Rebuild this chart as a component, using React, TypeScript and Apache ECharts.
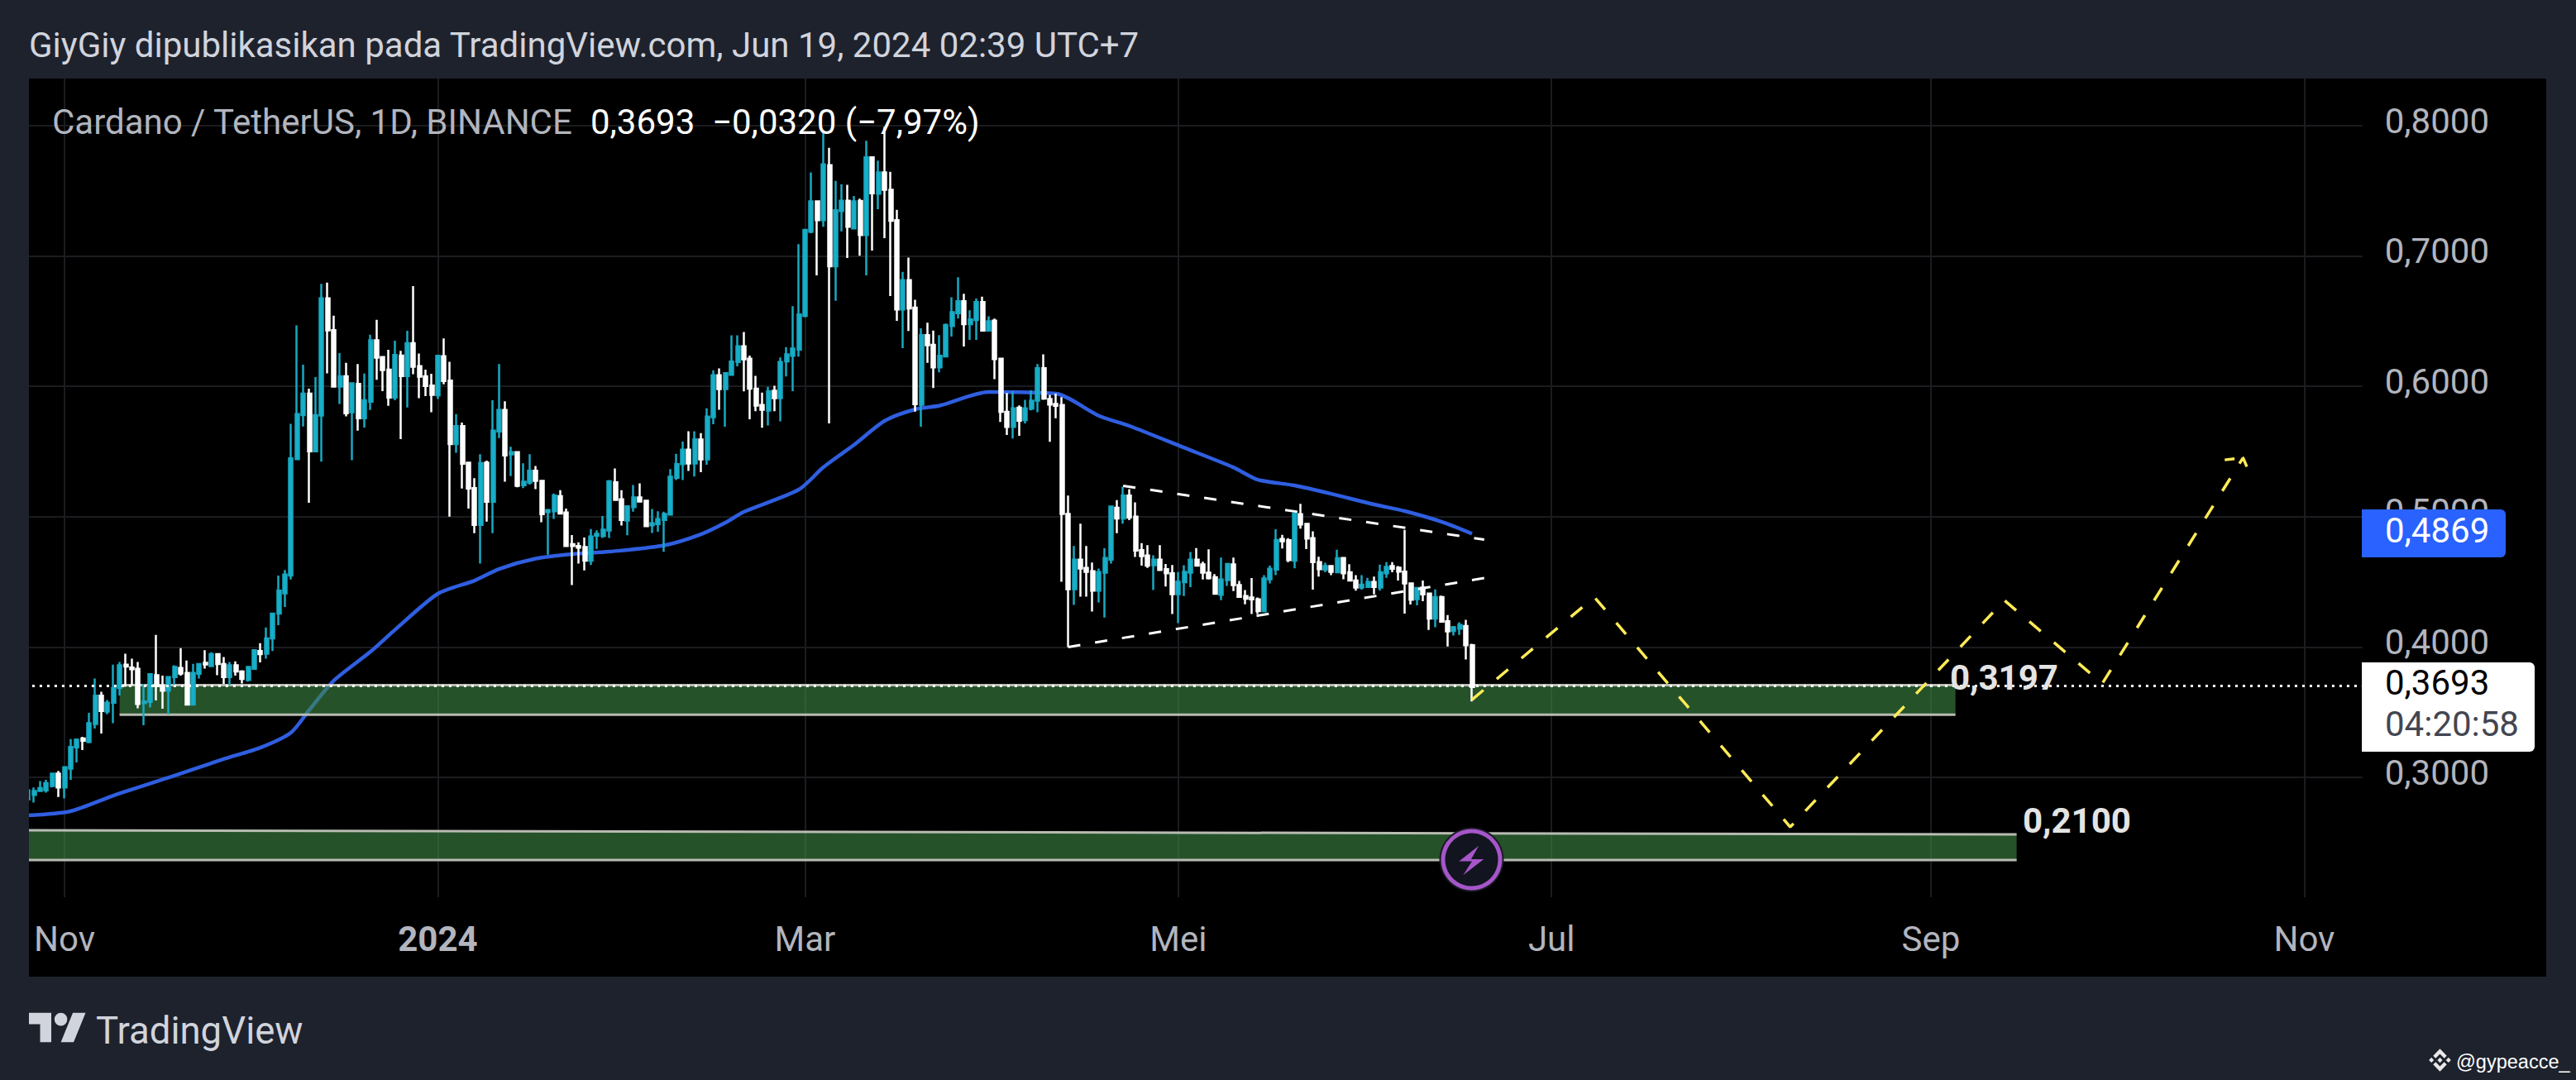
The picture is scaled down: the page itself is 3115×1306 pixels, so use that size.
import React, { useEffect, useRef } from "react";
import * as echarts from "echarts";

// Each row: [open, close, low, high]
const oct23 = [
  [0.283, 0.29, 0.281, 0.2923],[0.2866, 0.2896, 0.2807, 0.2923],[0.2896, 0.2917, 0.2892, 0.2972],[0.29, 0.2955, 0.2883, 0.2981],[0.2934, 0.3029, 0.2923, 0.3029],[0.3029, 0.2923, 0.2849, 0.305],
];
const nov23 = [
  [0.2923,0.3078,0.2839,0.3086],[0.3067,0.3234,0.2981,0.3294],[0.323,0.3289,0.3114,0.3298],[0.3298,0.3281,0.3209,0.3311],[0.3272,0.3416,0.3262,0.3495],
  [0.341,0.3626,0.3374,0.3759],[0.3626,0.3509,0.3336,0.3657],[0.3505,0.3573,0.3484,0.3594],[0.3573,0.3685,0.3416,0.3865],[0.3685,0.386,0.3628,0.3886],
  [0.3865,0.385,0.3695,0.3949],[0.3843,0.3829,0.3706,0.3911],[0.3833,0.3564,0.353,0.3886],[0.3569,0.3583,0.34,0.3717],[0.3579,0.3791,0.3537,0.3795],
  [0.3784,0.37,0.359,0.4093],[0.37,0.3664,0.3526,0.378],[0.3664,0.3769,0.3484,0.3776],[0.3769,0.3848,0.3706,0.386],[0.3839,0.3797,0.378,0.3992],
  [0.3801,0.3558,0.3552,0.3896],[0.3558,0.3801,0.3558,0.3871],[0.3795,0.3869,0.3759,0.3875],[0.3879,0.3867,0.3835,0.3975],[0.3854,0.3945,0.3848,0.396],
  [0.3945,0.3869,0.3784,0.3953],[0.3869,0.3769,0.3717,0.3924],[0.3769,0.386,0.3706,0.3886],[0.386,0.3812,0.378,0.389],[0.3812,0.3755,0.3721,0.3822],
];
const dec23 = [
  [0.3748,0.3848,0.3734,0.3854],[0.3833,0.3975,0.3833,0.3981],[0.397,0.3945,0.3882,0.403],[0.3949,0.4066,0.3911,0.415],[0.4066,0.4256,0.397,0.4256],
  [0.4256,0.4433,0.4167,0.4549],[0.4412,0.4556,0.4308,0.4592],[0.4549,0.5448,0.4518,0.5713],[0.5442,0.5787,0.5438,0.6468],[0.578,0.5945,0.5692,0.6167],
  [0.5945,0.5501,0.5106,0.5983],[0.5501,0.578,0.5501,0.6072],[0.5776,0.6675,0.5423,0.6787],[0.6675,0.643,0.61,0.6796],[0.6432,0.5998,0.5998,0.6542],
  [0.5998,0.6077,0.5865,0.6256],[0.6077,0.5793,0.577,0.618],[0.5802,0.6024,0.5434,0.603],[0.6019,0.5755,0.566,0.6172],[0.5755,0.5893,0.5685,0.6098],
  [0.5882,0.6354,0.5819,0.6396],[0.6354,0.622,0.6051,0.651],[0.6225,0.6125,0.5964,0.6231],[0.6129,0.5914,0.585,0.628],[0.5914,0.6241,0.5893,0.6351],
  [0.6237,0.6079,0.5596,0.6273],[0.6079,0.6332,0.5838,0.6426],[0.6332,0.6151,0.6093,0.677],[0.6155,0.6074,0.5909,0.6252],[0.6077,0.6003,0.5926,0.6129],
  [0.6007,0.5935,0.5802,0.6096],
];
const jan24 = [
  [0.5931,0.6235,0.5903,0.6235],[0.6231,0.6041,0.6015,0.6368],[0.6045,0.5558,0.5,0.6189],[0.5558,0.5696,0.5491,0.5787],[0.5696,0.5406,0.5216,0.5723],
  [0.5415,0.5216,0.5063,0.5423],[0.522,0.4937,0.4873,0.5296],[0.4937,0.5412,0.464,0.548],[0.5415,0.5114,0.4962,0.5431],[0.5114,0.566,0.4873,0.5893],
  [0.5654,0.5819,0.5603,0.6172],[0.5819,0.547,0.5269,0.5886],[0.5478,0.5495,0.5311,0.5537],[0.5495,0.5237,0.5226,0.5501],[0.5241,0.5269,0.522,0.541],
  [0.5262,0.5353,0.5247,0.548],[0.5353,0.5275,0.5212,0.5389],[0.5275,0.5019,0.4958,0.5279],[0.5036,0.5051,0.4708,0.5051],[0.5042,0.5163,0.4983,0.5178],
  [0.5157,0.5025,0.5019,0.5203],[0.5032,0.4776,0.4772,0.5063],[0.4789,0.4776,0.4475,0.486],[0.4776,0.4763,0.464,0.4803],[0.4767,0.4662,0.4588,0.4841],
  [0.4662,0.4848,0.463,0.4905],[0.4854,0.4869,0.4753,0.4896],[0.4852,0.4901,0.4837,0.5006],[0.4894,0.5271,0.4837,0.5281],[0.5264,0.5129,0.5123,0.537],
  [0.5133,0.4975,0.4932,0.5203],
];
const feb24 = [
  [0.497,0.508,0.4858,0.5085],[0.5074,0.5148,0.5038,0.5243],[0.5148,0.5116,0.5112,0.5256],[0.5123,0.4928,0.4922,0.5129],[0.4934,0.4949,0.4875,0.5059],
  [0.4943,0.4981,0.4884,0.5042],[0.4975,0.5021,0.4731,0.5038],[0.5017,0.5307,0.5013,0.5366],[0.5298,0.5404,0.5281,0.5482],[0.5404,0.5514,0.5281,0.5577],
  [0.5514,0.5408,0.5351,0.5656],[0.5408,0.5594,0.5309,0.5656],[0.5592,0.544,0.5341,0.5641],[0.544,0.5768,0.5398,0.5831],[0.5764,0.6085,0.5709,0.6123],
  [0.6085,0.5979,0.5821,0.6138],[0.5979,0.6102,0.569,0.611],[0.6089,0.6191,0.6089,0.6392],[0.6187,0.6307,0.6153,0.6392],[0.6307,0.6208,0.5962,0.6417],
  [0.6212,0.5983,0.5747,0.6237],[0.5983,0.5852,0.581,0.6081],[0.5857,0.5821,0.5683,0.5952],[0.5814,0.5962,0.57,0.5996],[0.5967,0.5909,0.581,0.6005],
  [0.5909,0.6187,0.5732,0.6222],[0.6192,0.6245,0.6076,0.6302],[0.6234,0.6291,0.5964,0.6615],[0.6283,0.6552,0.6228,0.7091],
];
const mar24 = [
  [0.6541,0.7201,0.653,0.7201],[0.7186,0.7419,0.7176,0.7641],[0.7419,0.7275,0.6852,0.7423],[0.7275,0.7704,0.7224,0.7948],[0.7698,0.6922,0.5716,0.7831],
  [0.6922,0.7351,0.6657,0.7577],[0.7345,0.7425,0.719,0.7552],[0.7425,0.7224,0.6985,0.7546],[0.7212,0.7419,0.7207,0.7461],[0.7423,0.7161,0.7002,0.744],
  [0.7161,0.7757,0.6852,0.7884],[0.7757,0.7482,0.7042,0.7761],[0.7478,0.7641,0.736,0.7732],[0.7641,0.7508,0.7137,0.799],[0.7508,0.7271,0.6693,0.7647],
  [0.7275,0.659,0.6503,0.7355],[0.659,0.6816,0.6294,0.6879],[0.6816,0.6598,0.6425,0.6989],[0.6604,0.5864,0.5807,0.6664],[0.5858,0.6393,0.5691,0.6446],
  [0.6393,0.6315,0.6181,0.6488],[0.6319,0.6146,0.5987,0.6429],[0.6146,0.6234,0.6107,0.6393],[0.623,0.6471,0.6224,0.6482],[0.6463,0.6569,0.6382,0.6683],
  [0.6562,0.6653,0.652,0.6837],[0.6653,0.6478,0.6306,0.671],[0.6478,0.6514,0.6357,0.6583],[0.6509,0.6647,0.6357,0.6674],[0.6647,0.6429,0.642,0.6689],
  [0.6429,0.6499,0.642,0.6537],
];
const apr24 = [
  [0.6505,0.6209,0.6055,0.652],[0.6213,0.5805,0.5727,0.6217],[0.5805,0.5689,0.5627,0.5949],[0.5689,0.5832,0.56,0.5964],[0.5837,0.5737,0.562,0.5854],
  [0.5742,0.5832,0.5716,0.5896],[0.5828,0.589,0.5816,0.597],[0.589,0.6139,0.5801,0.6171],[0.6139,0.5907,0.5896,0.6245],[0.5903,0.5861,0.5575,0.5935],
  [0.5865,0.585,0.5755,0.5945],[0.5857,0.5021,0.4501,0.5918],[0.5021,0.4444,0.4,0.5163],[0.4444,0.467,0.4323,0.4776],[0.467,0.4602,0.4387,0.4947],
  [0.4607,0.4577,0.4387,0.4776],[0.4581,0.4433,0.4272,0.4649],[0.4433,0.4575,0.4342,0.4602],[0.4571,0.4683,0.4226,0.4757],[0.467,0.5078,0.464,0.5082],
  [0.5068,0.4987,0.4873,0.5127],[0.4987,0.5163,0.4947,0.5231],[0.5163,0.4994,0.4973,0.5212],[0.5,0.474,0.4691,0.511],[0.4744,0.4698,0.4624,0.4797],
  [0.4702,0.4624,0.4607,0.4782],[0.4628,0.467,0.4437,0.4704],[0.467,0.4592,0.4585,0.4782],[0.4598,0.4566,0.4465,0.4638],[0.4566,0.4406,0.4253,0.463],
];
const may24 = [
  [0.4406,0.4501,0.4184,0.4575],[0.4497,0.4577,0.4391,0.4628],[0.4571,0.467,0.4459,0.4729],[0.467,0.4624,0.4619,0.4759],[0.4634,0.4571,0.4518,0.4655],
  [0.4571,0.4528,0.4518,0.475],[0.4535,0.4408,0.4401,0.456],[0.4401,0.4518,0.4359,0.4687],[0.4514,0.4638,0.4469,0.4645],[0.4634,0.4475,0.4429,0.4687],
  [0.4475,0.4385,0.438,0.4507],[0.4391,0.437,0.4328,0.4437],[0.438,0.4366,0.4253,0.453],[0.4366,0.4275,0.4253,0.438],[0.4274,0.4526,0.4267,0.4552],
  [0.452,0.46,0.4488,0.4625],[0.4594,0.4821,0.4552,0.4903],[0.4829,0.4811,0.4756,0.4861],[0.4819,0.4667,0.4651,0.4836],[0.4663,0.5025,0.4604,0.5029],
  [0.5019,0.4941,0.4909,0.5099],[0.4945,0.4832,0.4752,0.4952],[0.4836,0.4651,0.444,0.4888],[0.4651,0.4598,0.4541,0.4693],[0.4594,0.4621,0.4573,0.4646],
  [0.4621,0.4577,0.4552,0.4625],[0.4573,0.4682,0.4566,0.4747],[0.4684,0.4566,0.452,0.4688],[0.4573,0.451,0.4503,0.4636],[0.451,0.4457,0.4432,0.4552],
  [0.4457,0.4478,0.444,0.4552],
];
const jun24 = [
  [0.4461,0.4499,0.4453,0.4531],[0.4499,0.4461,0.4404,0.4541],[0.4457,0.4573,0.4432,0.4632],[0.4566,0.4615,0.4531,0.4651],[0.4621,0.46,0.4573,0.4651],
  [0.4608,0.4579,0.451,0.4621],[0.4579,0.4488,0.4257,0.4899],[0.4488,0.4362,0.4326,0.4495],[0.4368,0.4453,0.432,0.4457],[0.4457,0.4404,0.4352,0.451],
  [0.4411,0.4219,0.4131,0.4419],[0.4219,0.4383,0.4152,0.4442],[0.4383,0.4194,0.4194,0.4394],[0.4198,0.412,0.4004,0.4246],[0.4124,0.4152,0.4088,0.4162],
  [0.4141,0.4169,0.4093,0.419],[0.4162,0.4013,0.3905,0.4209],[0.4013,0.3693,0.3583,0.4025],
];

const maDates = ["2023-10-26","2023-11-02","2023-11-09","2023-11-19","2023-11-27","2023-12-03","2023-12-08","2023-12-11","2023-12-15","2023-12-21","2023-12-25","2024-01-01","2024-01-07","2024-01-11","2024-01-17","2024-01-23","2024-01-29","2024-02-07","2024-02-13","2024-02-17","2024-02-20","2024-02-29","2024-03-04","2024-03-09","2024-03-14","2024-03-19","2024-03-23","2024-03-31","2024-04-11","2024-04-18","2024-04-23","2024-05-02","2024-05-10","2024-05-14","2024-05-20","2024-05-26","2024-06-02","2024-06-07","2024-06-13","2024-06-18"];
const maValues = [0.2708,0.274,0.286,0.3013,0.314,0.3228,0.3343,0.3517,0.3742,0.3964,0.4132,0.4409,0.451,0.4599,0.4678,0.4713,0.4732,0.478,0.4865,0.4954,0.5037,0.5208,0.5379,0.5551,0.5735,0.5824,0.5852,0.5957,0.5944,0.5775,0.5697,0.5529,0.5379,0.5284,0.524,0.5176,0.5094,0.5043,0.4961,0.4869];

const pathDates = ["2024-06-18","2024-07-08","2024-08-09","2024-09-13","2024-09-29","2024-10-22"];
const pathValues = [0.3596,0.4383,0.2619,0.4358,0.372,0.5452];
const arrowDates = ["2024-10-19","2024-10-22","2024-10-23"];
const arrowValues = [0.5436,0.5452,0.5341];
const upperDates = ["2024-04-22","2024-06-20"];
const upperValues = [0.5237,0.4824];
const lowerDates = ["2024-04-13","2024-06-20"];
const lowerValues = [0.4,0.4529];

// zones: start, end, top at start, top at end, bottom
const zoneStarts = ["2023-11-10","2023-10-26"];
const zoneEnds = ["2024-09-05","2024-09-15"];
const zoneTopsStart = [0.3707,0.2594];
const zoneTopsEnd = [0.3707,0.2562];
const zoneBottoms = [0.348,0.2365];

const priceTicks = [0.3,0.4,0.5,0.6,0.7,0.8];
const monthLabels: Record<string,string> = {"2023-11-01":"Nov","2024-01-01":"2024","2024-03-01":"Mar","2024-05-01":"Mei","2024-07-01":"Jul","2024-09-01":"Sep","2024-11-01":"Nov"};
const lastPrice = 0.3693;

const categories: string[] = [];
for (let i = 0; i < 382; i++) {
  categories.push(new Date(Date.UTC(2023, 9, 26 + i)).toISOString().slice(0, 10));
}
const candles = [...oct23, ...nov23, ...dec23, ...jan24, ...feb24, ...mar24, ...apr24, ...may24, ...jun24];

echarts.graphic.registerShape("tvlogo", echarts.graphic.extendPath("M14 25H7V14H0V7h14v18zM28 25h-8l7.5-18h8L28 25zM24 11a4 4 0 1 1-8 0a4 4 0 1 1 8 0z", {}));
echarts.graphic.registerShape("bolt", echarts.graphic.extendPath("M175 98L103 155L150 155L118 205L193 147L147 147Z", {}));
echarts.graphic.registerShape("wmark", echarts.graphic.extendPath("M38.73 53.2L63 28.93l24.28 24.28 14.12-14.12L63 .69 24.61 39.08zM.69 63l14.12-14.12L28.93 63 14.81 77.12zM38.73 72.8L63 97.07l24.28-24.28 14.12 14.11L63 125.31 24.61 86.92zM97.07 63l14.12-14.12L125.31 63l-14.12 14.12zM77.32 63L63 48.68 52.41 59.27l-1.22 1.22-2.5 2.51L63 77.32z", {}));

const BG = "#1e222d";
const GRID = "#1b1c1f";
const FONT = "Roboto";
const pair = (d: string[], v: number[]) => d.map((x, i) => [x, v[i]]);
const isLabelDate = (_: number, v: string) => v in monthLabels;

const txt = (text: string, x: number, y: number, fill: string, size: number, weight = 400, family = FONT) => ({
  type: "text", x, y, z: 110, silent: true,
  style: { text, fill, font: `${weight} ${size}px "${family}"`, textVerticalAlign: "middle", verticalAlign: "middle" },
});

const dashed = (name: string, d: string[], v: number[], color: string, dash: number[], width: number, z: number) => ({
  name, type: "line", data: pair(d, v), symbol: "none", silent: true, z,
  lineStyle: { color, width, type: dash }, animation: false,
});

export default function App() {
  const ref = useRef<HTMLDivElement>(null);
  useEffect(() => {
    document.body.style.margin = "0";
    document.body.style.overflow = "hidden";
    const chart = echarts.init(ref.current!, undefined, { renderer: "svg" });
    chart.setOption({
      animation: false,
      backgroundColor: BG,
      grid: { left: 29.9, top: 95, width: 2826.8, height: 990, containLabel: false },
      xAxis: {
        type: "category", data: categories, boundaryGap: true,
        axisLine: { show: false }, axisTick: { show: false },
        axisLabel: {
          interval: isLabelDate, margin: 29, fontFamily: FONT, fontSize: 42, color: "#b2b5be",
          formatter: (v: string) => (monthLabels[v] === "2024" ? "{b|2024}" : monthLabels[v] || ""),
          rich: { b: { fontFamily: FONT, fontSize: 42, fontWeight: 700, color: "#b2b5be" } },
        },
        splitLine: { show: true, interval: isLabelDate, alignWithLabel: true, lineStyle: { color: GRID, width: 2 } },
      },
      yAxis: {
        type: "value", min: 0.208, max: 0.8362, position: "right", scale: true,
        axisLine: { show: false },
        axisTick: { show: false, customValues: priceTicks },
        axisLabel: {
          customValues: priceTicks, margin: 27, fontFamily: FONT, fontSize: 42, color: "#b2b5be", align: "left",
          verticalAlign: "bottom", lineHeight: 12,
          formatter: (v: number) => v.toFixed(4).replace(".", ","),
        },
        splitLine: { show: true, customValues: priceTicks, lineStyle: { color: GRID, width: 2 } },
      },
      graphic: { elements: [
        { type: "rect", z: -1, silent: true, shape: { x: 35, y: 95, width: 3044, height: 1086 }, style: { fill: "#000000" } },
        { type: "rect", z: 100, silent: true, shape: { x: 0, y: 95, width: 35, height: 1086 }, style: { fill: BG } },
        txt("GiyGiy dipublikasikan pada TradingView.com, Jun 19, 2024 02:39 UTC+7", 35, 54, "#d1d4dc", 42),
        txt("Cardano / TetherUS, 1D, BINANCE", 63, 147, "#b2b5be", 42),
        txt("0,3693", 714, 147, "#ffffff", 42),
        txt("\u22120,0320 (\u22127,97%)", 861, 147, "#ffffff", 42),
        txt("0,3197", 2358, 819, "#e4e4e4", 42, 700),
        txt("0,2100", 2446, 992, "#e4e4e4", 42, 700),
        { type: "rect", z: 105, silent: true, shape: { x: 2856, y: 616, width: 174, height: 58, r: [0, 6, 6, 0] }, style: { fill: "#2962ff" } },
        txt("0,4869", 2884, 641, "#ffffff", 42),
        { type: "rect", z: 105, silent: true, shape: { x: 2856, y: 801, width: 209, height: 108, r: [0, 6, 6, 0] }, style: { fill: "#ffffff" } },
        txt("0,3693", 2884, 825, "#000000", 42),
        txt("04:20:58", 2884, 875, "#434651", 42),
        { type: "circle", z: 105, silent: true, shape: { cx: 1779.5, cy: 1039.5, r: 39 }, style: { fill: "#1a1a26" } },
        { type: "circle", z: 106, silent: true, shape: { cx: 1779.5, cy: 1039.5, r: 34.5 }, style: { fill: "#121520", stroke: "#a656c9", lineWidth: 5 } },
        { type: "bolt", z: 107, silent: true, x: 1730, y: 990, scaleX: 1 / 3, scaleY: 1 / 3, style: { fill: "#a656c9" } },
        { type: "tvlogo", z: 110, silent: true, x: 35, y: 1211, scaleX: 1.93, scaleY: 1.97, style: { fill: "#d1d4dc" } },
        txt("TradingView", 116, 1246, "#d1d4dc", 45.5),
        { type: "wmark", z: 110, silent: true, x: 2937, y: 1268, scaleX: 0.214, scaleY: 0.222, style: { fill: "#e8e8e8" } },
        txt("@gypeacce_", 2970, 1284, "#ffffff", 23.5, 400, "Liberation Sans"),
      ] },
      series: [
        {
          name: "EMA", type: "line", data: pair(maDates, maValues), symbol: "none", silent: true, z: 1, smooth: 0.25,
          lineStyle: { color: "#2f5ee0", width: 4.5, join: "round" },
        },
        {
          name: "Zones", type: "custom", z: 2, silent: true, clip: true,
          data: zoneStarts.map((s, i) => [categories.indexOf(s), zoneBottoms[i]]),
          renderItem: (params: any, api: any) => {
            const i = params.dataIndex;
            const a = categories.indexOf(zoneStarts[i]);
            const b = categories.indexOf(zoneEnds[i]);
            const p1 = api.coord([a, zoneTopsStart[i]]);
            const p2 = api.coord([b, zoneTopsEnd[i]]);
            const p3 = api.coord([b, zoneBottoms[i]]);
            const p4 = api.coord([a, zoneBottoms[i]]);
            const stroke = { stroke: "#b8bcb2", lineWidth: 3 };
            return {
              type: "group",
              children: [
                { type: "polygon", shape: { points: [p1, p2, p3, p4] }, style: { fill: "rgba(63,137,70,0.6)" } },
                { type: "line", shape: { x1: p1[0], y1: p1[1], x2: p2[0], y2: p2[1] }, style: stroke },
                { type: "line", shape: { x1: p4[0], y1: p4[1], x2: p3[0], y2: p3[1] }, style: stroke },
              ],
            };
          },
        },
        {
          name: "ADAUSDT", type: "candlestick", data: candles, barWidth: 4.5, z: 3, silent: true,
          itemStyle: { color: "#13b5d0", color0: "#ffffff", borderColor: "#19a9c2", borderColor0: "#ffffff", borderWidth: 2.5 },
          markLine: {
            silent: true, symbol: "none", label: { show: false }, animation: false,
            lineStyle: { color: "#ffffff", width: 3, type: [3, 6] },
            data: [{ yAxis: lastPrice }],
          },
        },
        dashed("Upper", upperDates, upperValues, "#ffffff", [15, 18], 3, 4),
        dashed("Lower", lowerDates, lowerValues, "#ffffff", [15, 18], 3, 4),
        dashed("Projection", pathDates, pathValues, "#ffeb55", [18, 21], 3.5, 5),
        dashed("Arrow", arrowDates, arrowValues, "#ffeb55", [12, 10], 3.5, 5),
      ],
    });
    return () => chart.dispose();
  }, []);
  return <div ref={ref} style={{ position: "fixed", left: 0, top: 0, width: 3115, height: 1306 }} />;
}
